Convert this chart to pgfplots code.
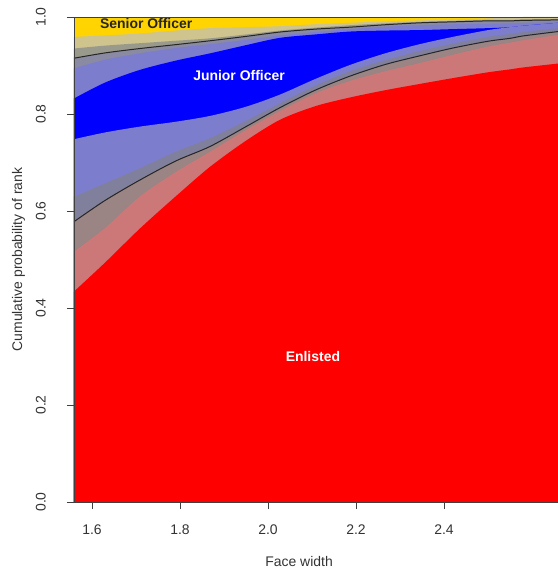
\documentclass[border=0pt]{standalone}
\usepackage{fontspec}
\setmainfont{Liberation Sans}
\usepackage{pgfplots}
\usepackage{pgfplotstable}
\pgfplotsset{compat=1.18}
\definecolor{cRed}{HTML}{FF0000}
\definecolor{cPink}{HTML}{CD7878}
\definecolor{cBrown}{HTML}{9A8484}
\definecolor{cSlate}{HTML}{80809C}
\definecolor{cLav}{HTML}{7D7DCD}
\definecolor{cBlue}{HTML}{0000FF}
\definecolor{cUGray}{HTML}{8A8AA2}
\definecolor{cKhaki}{HTML}{9A9A8C}
\definecolor{cTan}{HTML}{CFC38E}
\definecolor{cGold}{HTML}{FFD400}

\pgfplotstableread{
x     b1    b2    L1    b3    b4    b5    b6    L2    b7    b8
1.559 0.434 0.516 0.578 0.629 0.748 0.832 0.894 0.915 0.935 0.959
1.630 0.494 0.565 0.622 0.657 0.762 0.865 0.912 0.926 0.941 0.962
1.709 0.564 0.630 0.664 0.688 0.774 0.891 0.925 0.935 0.946 0.966
1.790 0.630 0.680 0.703 0.722 0.784 0.910 0.936 0.943 0.951 0.972
1.868 0.691 0.722 0.733 0.750 0.796 0.925 0.944 0.951 0.956 0.977
1.950 0.745 0.767 0.774 0.786 0.815 0.942 0.953 0.960 0.964 0.979
2.027 0.788 0.806 0.813 0.822 0.840 0.957 0.962 0.969 0.972 0.981
2.107 0.816 0.842 0.849 0.858 0.872 0.964 0.969 0.975 0.978 0.985
2.186 0.834 0.868 0.878 0.888 0.901 0.970 0.975 0.979 0.983 0.988
2.266 0.849 0.888 0.902 0.911 0.925 0.972 0.980 0.984 0.987 0.991
2.345 0.862 0.905 0.920 0.930 0.944 0.973 0.983 0.988 0.990 0.993
2.420 0.874 0.922 0.936 0.945 0.959 0.975 0.985 0.990 0.992 0.995
2.500 0.886 0.939 0.950 0.959 0.973 0.977 0.986 0.992 0.994 0.997
2.550 0.892 0.947 0.956 0.965 0.979 0.979 0.987 0.992 0.994 0.999
2.580 0.896 0.952 0.961 0.969 0.982 0.982 0.988 0.993 0.995 1.000
2.659 0.904 0.963 0.970 0.977 0.988 0.988 0.989 0.994 0.996 1.000
}\data

\begin{document}
\begin{tikzpicture}
\begin{axis}[
  scale only axis, width=484bp, height=485bp,
  xmin=1.559, xmax=2.659, ymin=0, ymax=1,
  axis on top,
  axis x line*=box, axis y line*=left,
  axis line style={-, black!75, line width=0.8bp},
  xtick={1.6,1.8,2.0,2.2,2.4}, ytick={0,0.2,0.4,0.6,0.8,1},
  tick align=outside, xtick pos=bottom, ytick pos=left,
  major tick length=7bp,
  tick style={black!75, line width=0.8bp},
  tick label style={font=\fontsize{14}{16}\selectfont, text=black!80},
  /pgf/number format/.cd, fixed, fixed zerofill, precision=1, assume math mode=true,
  /pgfplots/.cd,
  xticklabel style={anchor=north, inner sep=0pt},
  xticklabel shift=16bp,
  yticklabel style={rotate=90, anchor=south, inner sep=0pt},
  yticklabel shift=21bp,
  xlabel={Face width},
  every axis x label/.style={at={(axis description cs:0.465,-0.1237)}, anchor=center, font=\fontsize{14}{16}\selectfont, text=black!80},
  ylabel={Cumulative probability of rank},
  every axis y label/.style={at={(axis description cs:-0.1147,0.5)}, rotate=90, anchor=center, font=\fontsize{14}{16}\selectfont, text=black!80},
]
\addplot[fill=cGold, draw=none] coordinates {(1.559,1) (2.659,1)} \closedcycle;
\addplot[fill=cTan, draw=none, smooth] table[x=x, y=b8] {\data} \closedcycle;
\addplot[fill=cKhaki, draw=none, smooth] table[x=x, y=b7] {\data} \closedcycle;
\addplot[fill=cUGray, draw=none, smooth] table[x=x, y=L2] {\data} \closedcycle;
\addplot[fill=cLav, draw=none, smooth] table[x=x, y=b6] {\data} \closedcycle;
\addplot[fill=cBlue, draw=none, smooth] table[x=x, y=b5] {\data} \closedcycle;
\addplot[fill=cLav, draw=none, smooth] table[x=x, y=b4] {\data} \closedcycle;
\addplot[fill=cSlate, draw=none, smooth] table[x=x, y=b3] {\data} \closedcycle;
\addplot[fill=cBrown, draw=none, smooth] table[x=x, y=L1] {\data} \closedcycle;
\addplot[fill=cPink, draw=none, smooth] table[x=x, y=b2] {\data} \closedcycle;
\addplot[fill=cRed, draw=none, smooth] table[x=x, y=b1] {\data} \closedcycle;
\addplot[black!85, line width=1bp, smooth] table[x=x, y=L1] {\data};
\addplot[black!85, line width=1bp, smooth] table[x=x, y=L2] {\data};
\node[font=\bfseries\fontsize{14}{16}\selectfont, text=black!85] at (axis cs:1.723,0.9856) {Senior Officer};
\node[font=\bfseries\fontsize{14}{16}\selectfont, text=white] at (axis cs:1.934,0.880) {Junior Officer};
\node[font=\bfseries\fontsize{14}{16}\selectfont, text=white] at (axis cs:2.102,0.301) {Enlisted};
\coordinate (bl) at (rel axis cs:0,0);
\end{axis}
\pgfresetboundingbox
\useasboundingbox ([shift={(-74bp,-67bp)}]bl) rectangle ++(558bp,569bp);
\end{tikzpicture}
\end{document}
